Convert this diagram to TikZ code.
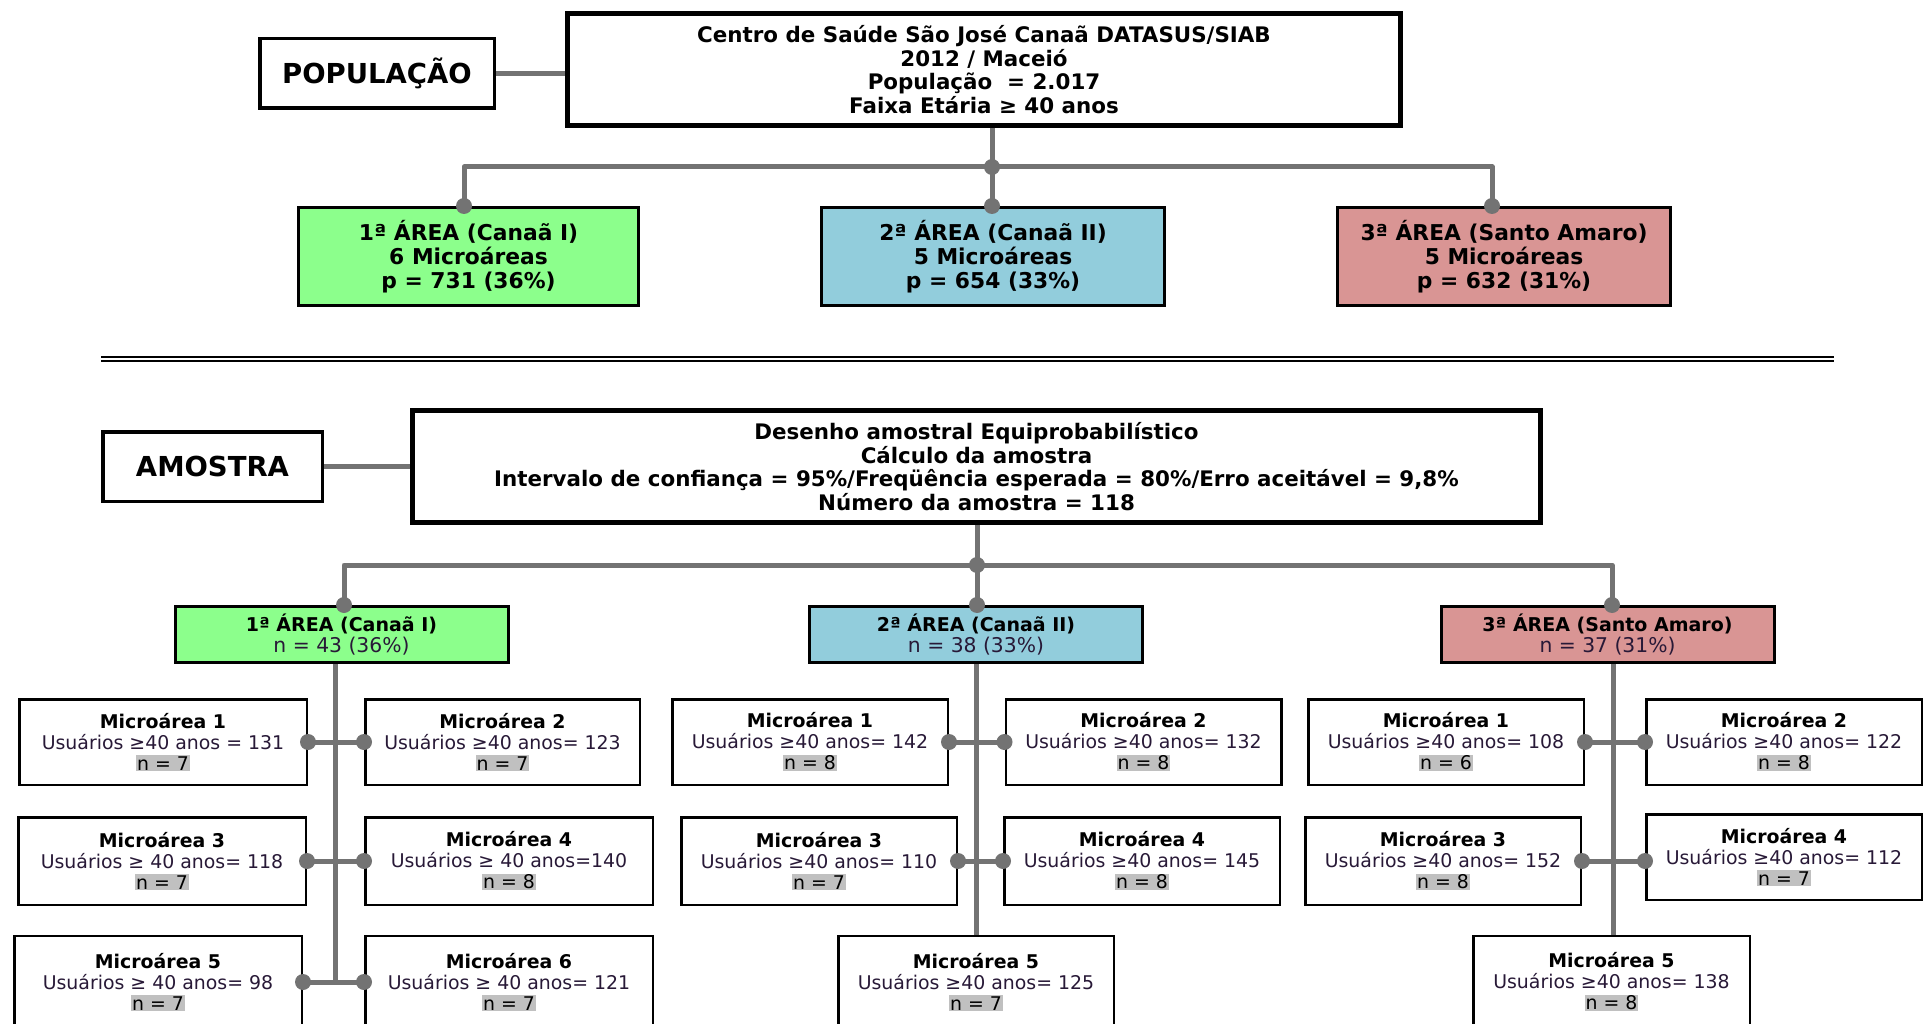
\documentclass[tikz,border=0pt]{standalone}
\usepackage{fontspec}
\setmainfont{DejaVu Sans}
\usetikzlibrary{positioning}
\definecolor{lgray}{RGB}{115,115,115}
\definecolor{agreen}{RGB}{140,255,140}
\definecolor{ablue}{RGB}{146,205,220}
\definecolor{ared}{RGB}{217,149,148}
\definecolor{hlgray}{RGB}{192,192,192}
\definecolor{ink}{RGB}{40,25,55}
\newcommand{\nbox}[1]{{\setlength{\fboxsep}{1pt}\colorbox{hlgray}{#1}}}
\newcommand{\ntext}[1]{{\fontsize{20.3}{21}\selectfont\color{ink}#1}}

\begin{document}
\begin{tikzpicture}[x=1pt, y=-1pt,
  big/.style={draw, line width=5pt, fill=white, align=center, minimum height=112pt, font=\bfseries\fontsize{21.4}{23.5}\selectfont},
  tag/.style={draw, line width=3.5pt, fill=white, minimum width=219.5pt, minimum height=69.5pt, font=\bfseries\fontsize{27.5}{30}\selectfont},
  area/.style={draw, line width=3pt, align=center, minimum height=98pt, font=\bfseries\fontsize{21.8}{24}\selectfont},
  sarea/.style={draw, line width=3pt, align=center, minimum width=333pt, minimum height=56pt, font=\fontsize{19}{21}\selectfont},
  micro/.style={draw, line width=2.5pt, fill=white, align=center, minimum width=275.5pt, minimum height=85.5pt, font=\fontsize{18.9}{21}\selectfont},
  conn/.style={draw=lgray, line width=5pt, line join=round}]
            \useasboundingbox (0,0) rectangle (1925,1024);
            \fill[white] (0,0) rectangle (1925,1024);
            \clip (0,0) rectangle (1925,1024);

            % populacao
            \node[big, minimum width=833pt] (popc) at (984,69.5) {Centro de Saúde São José Canaã DATASUS/SIAB\\2012 / Maceió\\População \ = 2.017\\Faixa Etária ≥ 40 anos};
            \node[tag, minimum width=234.5pt, left=69pt of popc, yshift=-4pt] (pop) {POPULAÇÃO};
            \node[area, fill=agreen, minimum width=340pt] (p1) at (468.5,256.5) {1ª ÁREA (Canaã I)\\6 Microáreas\\p = 731 (36\%)};
            \node[area, fill=ablue, minimum width=343pt] (p2) at (993,256.5) {2ª ÁREA (Canaã II)\\5 Microáreas\\p = 654 (33\%)};
            \node[area, fill=ared, minimum width=333pt] (p3) at (1504,256.5) {3ª ÁREA (Santo Amaro)\\5 Microáreas\\p = 632 (31\%)};

            \coordinate (j0) at (992,167);
            \coordinate (jl) at (464,167);
            \coordinate (jr) at (1492,167);
            \draw[conn] (pop) -- (pop -| popc.west);
            \draw[conn] (j0 |- popc.south) -- (j0) -- (j0 |- p2.north);
            \draw[conn] (jl |- p1.north) -- (jl) -- (jr) -- (jr |- p3.north);

            % separador
            \coordinate (sl) at (101,359);
            \coordinate (sr) at (1834,359);
            \draw[double, double distance=2.5pt, line width=1.5pt] (sl) -- (sr);

            % amostra
            \node[big, minimum width=1128pt] (samp) at (976.5,466.5) {Desenho amostral Equiprobabilístico\\Cálculo da amostra\\Intervalo de confiança = 95\%/Freqüência esperada = 80\%/Erro aceitável = 9,8\%\\Número da amostra = 118};
            \node[tag, left=86pt of samp] (am) {AMOSTRA};
            \node[sarea, fill=agreen] (s1) at (341.5,634.5) {\textbf{1ª ÁREA (Canaã I)}\\\ntext{n = 43 (36\%)}};
            \node[sarea, fill=ablue] (s2) at (976,634.5) {\textbf{2ª ÁREA (Canaã II)}\\\ntext{n = 38 (33\%)}};
            \node[sarea, fill=ared] (s3) at (1607.5,634.5) {\textbf{3ª ÁREA (Santo Amaro)}\\\ntext{n = 37 (31\%)}};

            \coordinate (k0) at (977,565);
            \coordinate (kl) at (344,565);
            \coordinate (kr) at (1612,565);
            \draw[conn] (am) -- (samp);
            \draw[conn] (k0 |- samp.south) -- (k0) -- (k0 |- s2.north);
            \draw[conn] (kl |- s1.north) -- (kl) -- (kr) -- (kr |- s3.north);

            % microareas 1a area
            \node[micro, minimum width=287.5pt] (m11) at (163,742) {\textbf{Microárea 1}\\\textcolor{ink}{Usuários ≥40 anos = 131}\\\nbox{n = 7}};
            \node[micro, minimum width=274.5pt] (m12) at (502.5,742) {\textbf{Microárea 2}\\\textcolor{ink}{Usuários ≥40 anos= 123}\\\nbox{n = 7}};
            \node[micro, minimum width=287.5pt, minimum height=87.5pt] (m13) at (162,861) {\textbf{Microárea 3}\\\textcolor{ink}{Usuários ≥ 40 anos= 118}\\\nbox{n = 7}};
            \node[micro, minimum width=287.5pt, minimum height=87.5pt] (m14) at (509,861) {\textbf{Microárea 4}\\\textcolor{ink}{Usuários ≥ 40 anos=140}\\\nbox{n = 8}};
            \node[micro, minimum width=287.5pt, minimum height=92pt] (m15) at (158,982) {\textbf{Microárea 5}\\\textcolor{ink}{Usuários ≥ 40 anos= 98}\\\nbox{n = 7}};
            \node[micro, minimum width=287.5pt, minimum height=92pt] (m16) at (509,982) {\textbf{Microárea 6}\\\textcolor{ink}{Usuários ≥ 40 anos= 121}\\\nbox{n = 7}};

            % microareas 2a area
            \node[micro] (m21) at (810,742) {\textbf{Microárea 1}\\\textcolor{ink}{Usuários ≥40 anos= 142}\\\nbox{n = 8}};
            \node[micro] (m22) at (1143.5,742) {\textbf{Microárea 2}\\\textcolor{ink}{Usuários ≥40 anos= 132}\\\nbox{n = 8}};
            \node[micro, minimum height=87.5pt] (m23) at (819,861) {\textbf{Microárea 3}\\\textcolor{ink}{Usuários ≥40 anos= 110}\\\nbox{n = 7}};
            \node[micro, minimum height=87.5pt] (m24) at (1142,861) {\textbf{Microárea 4}\\\textcolor{ink}{Usuários ≥40 anos= 145}\\\nbox{n = 8}};
            \node[micro, minimum height=92pt] (m25) at (976,982) {\textbf{Microárea 5}\\\textcolor{ink}{Usuários ≥40 anos= 125}\\\nbox{n = 7}};

            % microareas 3a area
            \node[micro] (m31) at (1446,742) {\textbf{Microárea 1}\\\textcolor{ink}{Usuários ≥40 anos= 108}\\\nbox{n = 6}};
            \node[micro] (m32) at (1784,742) {\textbf{Microárea 2}\\\textcolor{ink}{Usuários ≥40 anos= 122}\\\nbox{n = 8}};
            \node[micro, minimum height=87.5pt] (m33) at (1443,861) {\textbf{Microárea 3}\\\textcolor{ink}{Usuários ≥40 anos= 152}\\\nbox{n = 8}};
            \node[micro] (m34) at (1784,857) {\textbf{Microárea 4}\\\textcolor{ink}{Usuários ≥40 anos= 112}\\\nbox{n = 7}};
            \node[micro, minimum width=276.5pt, minimum height=92pt] (m35) at (1611.5,982) {\textbf{Microárea 5}\\\textcolor{ink}{Usuários ≥40 anos= 138}\\\nbox{n = 8}};

            \coordinate (t1) at (335,0);
            \coordinate (t3) at (1613,0);
            \draw[conn] (t1 |- s1.south) -- (t1 |- m15.east);
            \draw[conn] (s2.south) -- (m25.north);
            \draw[conn] (t3 |- s3.south) -- (t3 |- m35.north);
            \draw[conn] (m11.east) -- (m12.west);
            \draw[conn] (m13.east) -- (m14.west);
            \draw[conn] (m15.east) -- (m16.west);
            \draw[conn] (m21.east) -- (m22.west);
            \draw[conn] (m23.east) -- (m24.west);
            \draw[conn] (m31.east) -- (m32.west);
            \draw[conn] (m33.east) -- (m33.east -| m34.west);

            % pontos
            \fill[lgray] (j0) circle (8pt) (jl |- p1.north) circle (8pt) (j0 |- p2.north) circle (8pt) (jr |- p3.north) circle (8pt);
            \fill[lgray] (k0) circle (8pt) (kl |- s1.north) circle (8pt) (k0 |- s2.north) circle (8pt) (kr |- s3.north) circle (8pt);
            \fill[lgray] (m11.east) circle (8pt) (m12.west) circle (8pt) (m13.east) circle (8pt) (m14.west) circle (8pt) (m15.east) circle (8pt) (m16.west) circle (8pt);
            \fill[lgray] (m21.east) circle (8pt) (m22.west) circle (8pt) (m23.east) circle (8pt) (m24.west) circle (8pt);
            \fill[lgray] (m31.east) circle (8pt) (m32.west) circle (8pt) (m33.east) circle (8pt) (m33.east -| m34.west) circle (8pt);
        \end{tikzpicture}
\end{document}
